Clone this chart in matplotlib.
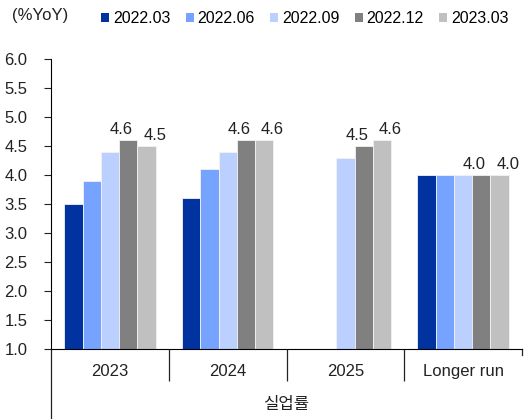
import numpy as np
import matplotlib.pyplot as plt
from matplotlib.patches import Patch

plt.rcParams['font.family'] = ['Liberation Sans', 'Noto Sans CJK KR', 'DejaVu Sans']

# FOMC unemployment projections by release
categories = ['2023', '2024', '2025', 'Longer run']
releases = ['2022.03', '2022.06', '2022.09', '2022.12', '2023.03']
colors = ['#0033a0', '#75a3ff', '#bbd0ff', '#808080', '#c0c0c0']
values = {
    '2022.03': [3.5, 3.6, np.nan, 4.0],
    '2022.06': [3.9, 4.1, np.nan, 4.0],
    '2022.09': [4.4, 4.4, 4.3, 4.0],
    '2022.12': [4.6, 4.6, 4.5, 4.0],
    '2023.03': [4.5, 4.6, 4.6, 4.0],
}
# only the last two releases get value labels, nudged apart sideways
label_shift = {'2022.12': -5, '2023.03': 6}
group_name = '실업률'

fig = plt.figure(figsize=(5.27, 4.19), dpi=100)
ax = fig.add_axes([0.0968, 0.167, 0.8937, 0.692])

x = np.arange(len(categories))
w = 0.155
handles = []
for i, r in enumerate(releases):
    bars = ax.bar(x + (i - 2) * w, np.array(values[r]) - 1.0, w, bottom=1.0,
                  color=colors[i], edgecolor='#f2f2f2', linewidth=0.6)
    if r in label_shift:
        for xi, v in zip(x, values[r]):
            if not np.isnan(v):
                ax.annotate(f'{v:.1f}', (xi + (i - 2) * w, v), xytext=(label_shift[r], 2),
                            textcoords='offset points', ha='center', va='bottom',
                            fontsize=12, color='#222222')
    handles.append(Patch(facecolor=colors[i], label=r))

ax.set_xlim(-0.5, 3.5)
ax.set_ylim(1.0, 6.0)
ax.set_yticks(np.arange(1.0, 6.01, 0.5))
ax.set_yticklabels([f'{t:.1f}' for t in np.arange(1.0, 6.01, 0.5)], fontsize=12)
ax.tick_params(axis='y', length=5, width=0.8, pad=12, colors='#222222')

for s in ['top', 'right']:
    ax.spines[s].set_visible(False)
ax.spines['left'].set_linewidth(0.8)
ax.spines['bottom'].set_linewidth(0.8)
ax.spines['bottom'].set_bounds(-0.5, 3.5)

# category axis: group labels with divider ticks
ax.set_xticks(x)
ax.set_xticklabels(categories, fontsize=12)
ax.tick_params(axis='x', length=0, pad=11, colors='#222222')
ax.set_xticks([0.5, 1.5, 2.5], minor=True)
ax.tick_params(axis='x', which='minor', length=23, width=0.9, color='#222222')
ax.plot([0, 0], [0, -0.26], transform=ax.transAxes, color='#222222', lw=0.9, clip_on=False)
ax.plot([1, 1], [0, -0.02], transform=ax.transAxes, color='#222222', lw=0.9, clip_on=False)
ax.text(0.5, -0.19, group_name, transform=ax.transAxes, ha='center', va='center',
        fontsize=12, color='#222222')

fig.text(0.022, 0.962, '(%YoY)', fontsize=12, ha='left', va='center', color='#222222')
fig.legend(handles=handles, loc='center left', bbox_to_anchor=(0.192, 0.955), ncol=5,
           frameon=False, fontsize=11.5, handlelength=0.5, handleheight=0.5,
           handletextpad=0.25, columnspacing=0.95, borderaxespad=0, borderpad=0)

fig.savefig('out.png', dpi=100)
